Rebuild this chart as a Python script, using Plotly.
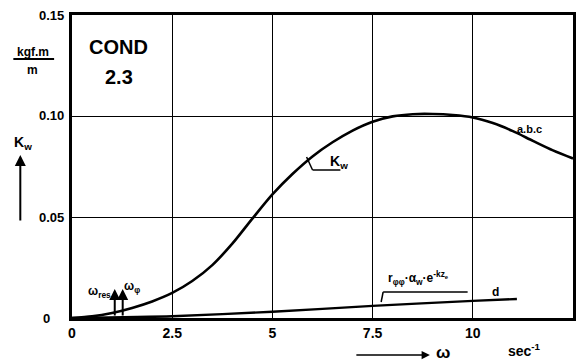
import plotly.graph_objects as go

# ---- data ----
omega_k = [0, 0.5, 1.0, 1.5, 2.0, 2.5, 3.0, 3.5, 4.0, 4.5, 5.0, 5.5, 6.0, 6.5, 7.0, 7.5,
           8.0, 8.5, 9.0, 9.5, 10.0, 10.5, 11.0, 11.5, 12.0, 12.5]
kw_abc = [0, 0.0008, 0.0025, 0.0050, 0.0082, 0.0124, 0.0183, 0.0262, 0.0368, 0.0492,
          0.0612, 0.0713, 0.0800, 0.0870, 0.0928, 0.0972, 0.0998, 0.1009, 0.1010,
          0.1005, 0.0993, 0.0965, 0.0925, 0.0877, 0.0830, 0.0790]
omega_d = [0, 2.5, 5.0, 7.5, 10.0, 11.1]
kw_d = [0, 0.0009, 0.0031, 0.0060, 0.0085, 0.0094]

x_ticks = [0, 2.5, 5, 7.5, 10, 12.5]
x_ticktext = ["0", "2.5", "5", "7.5", "10", "12.5"]
y_ticks = [0, 0.05, 0.10, 0.15]
y_ticktext = ["0", "0.05", "0.10", "0.15"]

W, H = 584, 361
L, R, T, B = 72, 8, 15, 43
PW, PH = W - L - R, H - T - B
FONT = "Liberation Sans"


def px(x):
    return (x - L) / PW


def py(y):
    return (H - B - y) / PH


fig = go.Figure()
fig.add_trace(go.Scatter(x=omega_k, y=kw_abc, mode="lines",
                         line=dict(color="black", width=2.6, shape="spline", smoothing=0.8), hoverinfo="skip"))
fig.add_trace(go.Scatter(x=omega_d, y=kw_d, mode="lines",
                         line=dict(color="black", width=2.4, shape="spline", smoothing=0.6), hoverinfo="skip"))

ann = []


def text(x, y, t, size=12, xanchor="center", yanchor="middle"):
    ann.append(dict(x=px(x), y=py(y), xref="paper", yref="paper", text=t, showarrow=False,
                    xanchor=xanchor, yanchor=yanchor,
                    font=dict(family=FONT, size=size, color="black", weight="bold")))


# y tick labels
for v, t in zip(y_ticks, y_ticktext):
    ann.append(dict(x=0, y=v / 0.15, xref="paper", yref="paper", text=t, showarrow=False,
                    xanchor="right", yanchor="middle", xshift=-6 if v else -20,
                    font=dict(family=FONT, size=13, color="black", weight="bold")))

text(119, 47, "COND", 20)
text(119, 77, "2.3", 20)
text(33, 52, "kgf.m", 12)
text(32, 70, "m", 12)
text(23, 143, "K<sub>w</sub>", 14)
text(532, 129, "a.b.c", 11)
text(330, 162, "K<sub>w</sub>", 14, xanchor="left")
text(86, 292, "ω<sub>res</sub>", 12, xanchor="left")
text(122, 287, "ω<sub>φ</sub>", 12, xanchor="left")
text(388, 278, "r<sub>φφ</sub>·α<sub>w</sub>·e<sup>-kz<sub>e</sub></sup>", 12, xanchor="left")
text(498, 292, "d", 12)
text(445, 352, "ω", 17)
text(509, 350, "sec<sup>-1</sup>", 14, xanchor="left")


# arrows
def arrow(x0, y0, x1, y1, w=2):
    ann.append(dict(x=px(x1), y=py(y1), xref="paper", yref="paper",
                    ax=x0 - x1, ay=y0 - y1, axref="pixel", ayref="pixel",
                    text="", showarrow=True, arrowhead=2, arrowsize=1.1, arrowwidth=w, arrowcolor="black"))


arrow(20, 222, 20, 155, 2)
arrow(115, 317, 115, 289, 2)
arrow(123, 317, 123, 289, 2)
arrow(357, 355, 432, 355, 1.5)

shapes = []


def seg(pts, w=1.5):
    for (a, b), (c, d) in zip(pts[:-1], pts[1:]):
        shapes.append(dict(type="line", xref="paper", yref="paper", x0=px(a), y0=py(b), x1=px(c), y1=py(d),
                           line=dict(color="black", width=w)))


seg([(13, 59), (54, 59)], 1.8)
seg([(308, 157), (314, 170), (342, 170)], 1.5)
seg([(383, 302), (385, 292), (470, 292)], 1.5)

fig.update_layout(
    width=W, height=H, margin=dict(l=L, r=R, t=T, b=B),
    paper_bgcolor="white", plot_bgcolor="white", showlegend=False,
    annotations=ann, shapes=shapes,
    xaxis=dict(range=[0, 12.5], tickvals=x_ticks, ticktext=x_ticktext, showgrid=True,
               gridcolor="black", gridwidth=1.4, zeroline=False, showline=True, mirror=True,
               linecolor="black", linewidth=2.5, ticks="",
               tickfont=dict(family=FONT, size=14, color="black", weight="bold")),
    yaxis=dict(range=[0, 0.15], tickvals=y_ticks, showticklabels=False, showgrid=True,
               gridcolor="black", gridwidth=1.4, zeroline=False, showline=True, mirror=True,
               linecolor="black", linewidth=2.5, ticks=""),
)

fig.write_html("out.html")
